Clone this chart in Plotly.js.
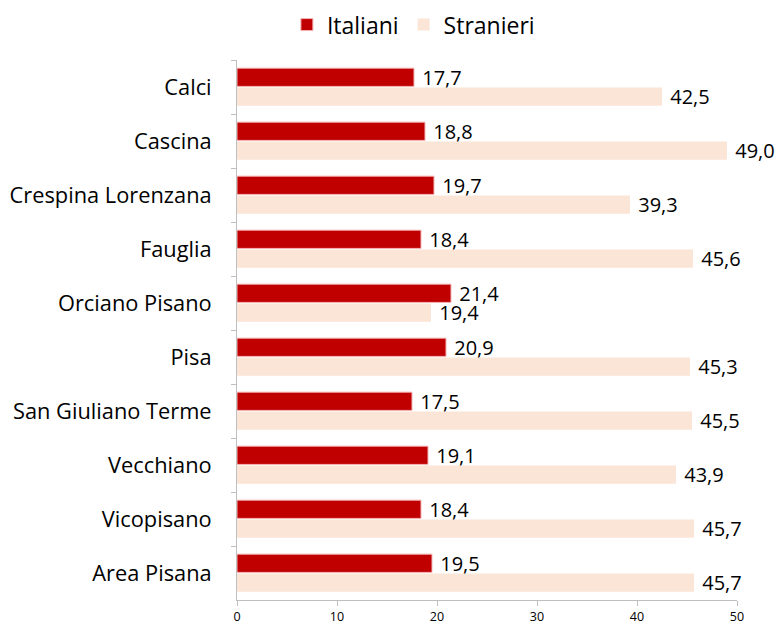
<!DOCTYPE html>
<html>
<head>
<meta charset="utf-8">
<script src="https://cdn.plot.ly/plotly-3.0.1.min.js"></script>
<style>html,body{margin:0;padding:0;background:#fff;}#chart{width:780px;height:628px;}</style>
</head>
<body>
<div id="chart"></div>
<script>
const categories = ["Calci","Cascina","Crespina Lorenzana","Fauglia","Orciano Pisano","Pisa","San Giuliano Terme","Vecchiano","Vicopisano","Area Pisana"];
const italiani = [17.7,18.8,19.7,18.4,21.4,20.9,17.5,19.1,18.4,19.5];
const stranieri = [42.5,49.0,39.3,45.6,19.4,45.3,45.5,43.9,45.7,45.7];
const xTicks = [0,10,20,30,40,50];

const fmt = v => ' ' + v.toFixed(1).replace('.', ',');
const font = "Open Sans, Noto Sans, sans-serif";

const traces = [
  {type:'bar', orientation:'h', name:'Italiani', y:categories, x:italiani,
   text:italiani.map(fmt), textposition:'outside', cliponaxis:false, constraintext:'none',
   textfont:{size:20, color:'#000', family:font},
   marker:{color:'#C00000', line:{color:'#F4B6B6', width:1}}, hoverinfo:'x+y'},
  {type:'bar', orientation:'h', name:'Stranieri', y:categories, x:stranieri,
   text:stranieri.map(fmt), textposition:'outside', cliponaxis:false, constraintext:'none',
   textfont:{size:20, color:'#000', family:font},
   marker:{color:'#FBE5D6'}, hoverinfo:'x+y'}
];

const layout = {
  width:780, height:628,
  margin:{l:237, r:43, t:60, b:28},
  barmode:'group', bargap:0.28, bargroupgap:0.06,
  separators:',.',
  paper_bgcolor:'#fff', plot_bgcolor:'#fff',
  font:{family:font, color:'#000'},
  showlegend:true,
  legend:{orientation:'h', xref:'container', x:0.53, xanchor:'center', yref:'container', y:0.995, yanchor:'top',
          font:{size:23, family:font}, traceorder:'normal'},
  xaxis:{range:[0,50], tickvals:xTicks, ticktext:xTicks.map(String), showgrid:false, zeroline:false,
         showline:true, linecolor:'#BFBFBF', linewidth:1, ticks:'outside', ticklen:5, tickcolor:'#BFBFBF',
         tickfont:{size:12.5, family:font}, fixedrange:true},
  yaxis:{autorange:'reversed', type:'category', showgrid:false, showline:true, linecolor:'#BFBFBF', linewidth:1,
         ticks:'outside', tickson:'boundaries', ticklen:5, tickcolor:'#BFBFBF',
         tickfont:{size:21.8, family:font}, ticklabelstandoff:20, fixedrange:true}
};

Plotly.newPlot('chart', traces, layout, {displayModeBar:false, staticPlot:true});
</script>
</body>
</html>
